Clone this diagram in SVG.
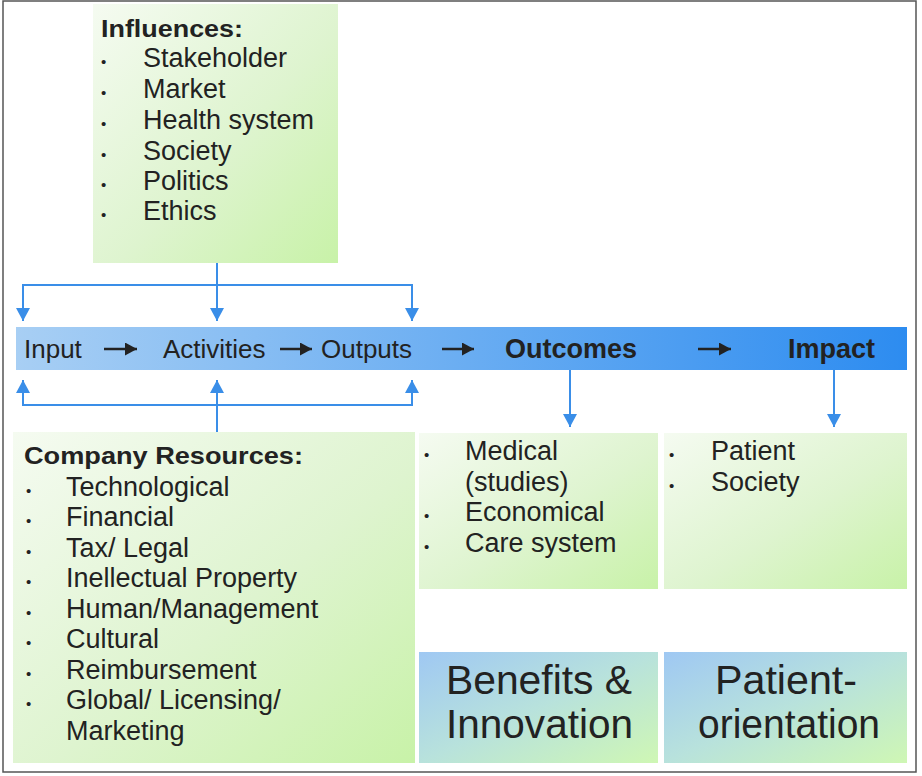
<svg xmlns="http://www.w3.org/2000/svg" width="922" height="776" viewBox="0 0 922 776">
  <style>
    text { font-family: "Liberation Sans", Arial, sans-serif; fill: #222; }
    .item { font-size: 27px; }
    .title { font-size: 24px; font-weight: bold; }
    .bar { font-size: 26px; }
    .barb { font-size: 27px; font-weight: bold; }
    .big { font-size: 40px; }
    .dot { font-size: 15px; }
    .conn { fill: none; stroke: #3a8ee8; stroke-width: 2; }
    .flow { fill: none; stroke: #222; stroke-width: 2.5; }
  </style>
  <defs>
    <linearGradient id="green" x1="0" y1="0" x2="1" y2="1">
      <stop offset="0" stop-color="#f5fbf1"/>
      <stop offset="0.55" stop-color="#def4cf"/>
      <stop offset="1" stop-color="#c8f2a8"/>
    </linearGradient>
    <linearGradient id="bluegreen" x1="0" y1="0" x2="1" y2="1">
      <stop offset="0" stop-color="#9fc8f3"/>
      <stop offset="0.5" stop-color="#b8e2dc"/>
      <stop offset="1" stop-color="#cff7b4"/>
    </linearGradient>
    <linearGradient id="barfill" x1="0" y1="0" x2="1" y2="0">
      <stop offset="0" stop-color="#a8cff4"/>
      <stop offset="1" stop-color="#2d8cf0"/>
    </linearGradient>
    <marker id="head" markerUnits="userSpaceOnUse" markerWidth="16" markerHeight="16" refX="13" refY="7" orient="auto">
      <path d="M0,0 L13,7 L0,14 Z" fill="#3a8ee8"/>
    </marker>
    <marker id="darkhead" markerUnits="userSpaceOnUse" markerWidth="14" markerHeight="14" refX="12" refY="6.5" orient="auto">
      <path d="M0,0 L12,6.5 L0,13 Z" fill="#222"/>
    </marker>
  </defs>

  <rect x="0" y="0" width="922" height="776" fill="#fff"/>
  <!-- frame -->
  <rect x="3" y="1" width="913" height="771" fill="none" stroke="#555" stroke-width="1.5"/>

  <g id="influences">
    <rect x="93" y="4" width="245" height="259" fill="url(#green)"/>
    <text class="title" x="101" y="37" textLength="142" lengthAdjust="spacingAndGlyphs">Influences:</text>
    <text class="dot" x="101" y="67">•</text><text class="item" x="143" y="67">Stakeholder</text>
    <text class="dot" x="101" y="98">•</text><text class="item" x="143" y="98">Market</text>
    <text class="dot" x="101" y="129">•</text><text class="item" x="143" y="129">Health system</text>
    <text class="dot" x="101" y="160">•</text><text class="item" x="143" y="160">Society</text>
    <text class="dot" x="101" y="190">•</text><text class="item" x="143" y="190">Politics</text>
    <text class="dot" x="101" y="220">•</text><text class="item" x="143" y="220">Ethics</text>
  </g>

  <g id="chain">
    <rect x="16" y="327" width="891" height="43" fill="url(#barfill)"/>
    <text class="bar" x="24" y="358">Input</text>
    <text class="bar" x="163" y="358">Activities</text>
    <text class="bar" x="321" y="358">Outputs</text>
    <text class="barb" x="505" y="358">Outcomes</text>
    <text class="barb" x="788" y="358">Impact</text>
  </g>

  <g id="company-resources">
    <rect x="13" y="432" width="402" height="331" fill="url(#green)"/>
    <text class="title" x="24" y="464" textLength="279" lengthAdjust="spacingAndGlyphs">Company Resources:</text>
    <text class="dot" x="26" y="496">•</text><text class="item" x="66" y="496">Technological</text>
    <text class="dot" x="26" y="526">•</text><text class="item" x="66" y="526">Financial</text>
    <text class="dot" x="26" y="557">•</text><text class="item" x="66" y="557">Tax/ Legal</text>
    <text class="dot" x="26" y="587">•</text><text class="item" x="66" y="587">Inellectual Property</text>
    <text class="dot" x="26" y="618">•</text><text class="item" x="66" y="618">Human/Management</text>
    <text class="dot" x="26" y="648">•</text><text class="item" x="66" y="648">Cultural</text>
    <text class="dot" x="26" y="679">•</text><text class="item" x="66" y="679">Reimbursement</text>
    <text class="dot" x="26" y="709">•</text><text class="item" x="66" y="709">Global/ Licensing/</text>
    <text class="item" x="66" y="740">Marketing</text>
  </g>

  <g id="outcomes">
    <rect x="419" y="433" width="239" height="156" fill="url(#green)"/>
    <text class="dot" x="424" y="460">•</text><text class="item" x="465" y="460">Medical</text>
    <text class="item" x="465" y="491">(studies)</text>
    <text class="dot" x="424" y="521">•</text><text class="item" x="465" y="521">Economical</text>
    <text class="dot" x="424" y="552">•</text><text class="item" x="465" y="552">Care system</text>
  </g>

  <g id="impact">
    <rect x="664" y="433" width="243" height="156" fill="url(#green)"/>
    <text class="dot" x="669" y="460">•</text><text class="item" x="711" y="460">Patient</text>
    <text class="dot" x="669" y="491">•</text><text class="item" x="711" y="491">Society</text>
  </g>

  <g id="benefits">
    <rect x="419" y="652" width="239" height="111" fill="url(#bluegreen)"/>
    <text class="big" x="446" y="694" textLength="186" lengthAdjust="spacingAndGlyphs">Benefits &amp;</text>
    <text class="big" x="446" y="738" textLength="187" lengthAdjust="spacingAndGlyphs">Innovation</text>
  </g>

  <g id="patient-orientation">
    <rect x="664" y="652" width="243" height="111" fill="url(#bluegreen)"/>
    <text class="big" x="715" y="694" textLength="142" lengthAdjust="spacingAndGlyphs">Patient-</text>
    <text class="big" x="698" y="738" textLength="182" lengthAdjust="spacingAndGlyphs">orientation</text>
  </g>

  <g id="connectors">
    <!-- influences feed down into the first three stages -->
    <path class="conn" d="M217,263 V321" marker-end="url(#head)"/>
    <path class="conn" d="M23,321 V285 H412 V321" marker-end="url(#head)"/>
    <path class="conn" d="M412,285 H23 V321" marker-end="url(#head)"/>
    <!-- resources feed up into the first three stages -->
    <path class="conn" d="M217,432 V380" marker-end="url(#head)"/>
    <path class="conn" d="M23,380 V405 H412 V380" marker-end="url(#head)"/>
    <path class="conn" d="M412,405 H23 V380" marker-end="url(#head)"/>
    <!-- outcomes and impact drop into their boxes -->
    <path class="conn" d="M570,370 V427" marker-end="url(#head)"/>
    <path class="conn" d="M834,370 V427" marker-end="url(#head)"/>
    <!-- stage-to-stage arrows inside the bar -->
    <path class="flow" d="M104,349 H137" marker-end="url(#darkhead)"/>
    <path class="flow" d="M280,349 H312" marker-end="url(#darkhead)"/>
    <path class="flow" d="M442,349 H474" marker-end="url(#darkhead)"/>
    <path class="flow" d="M698,349 H731" marker-end="url(#darkhead)"/>
  </g>
</svg>
